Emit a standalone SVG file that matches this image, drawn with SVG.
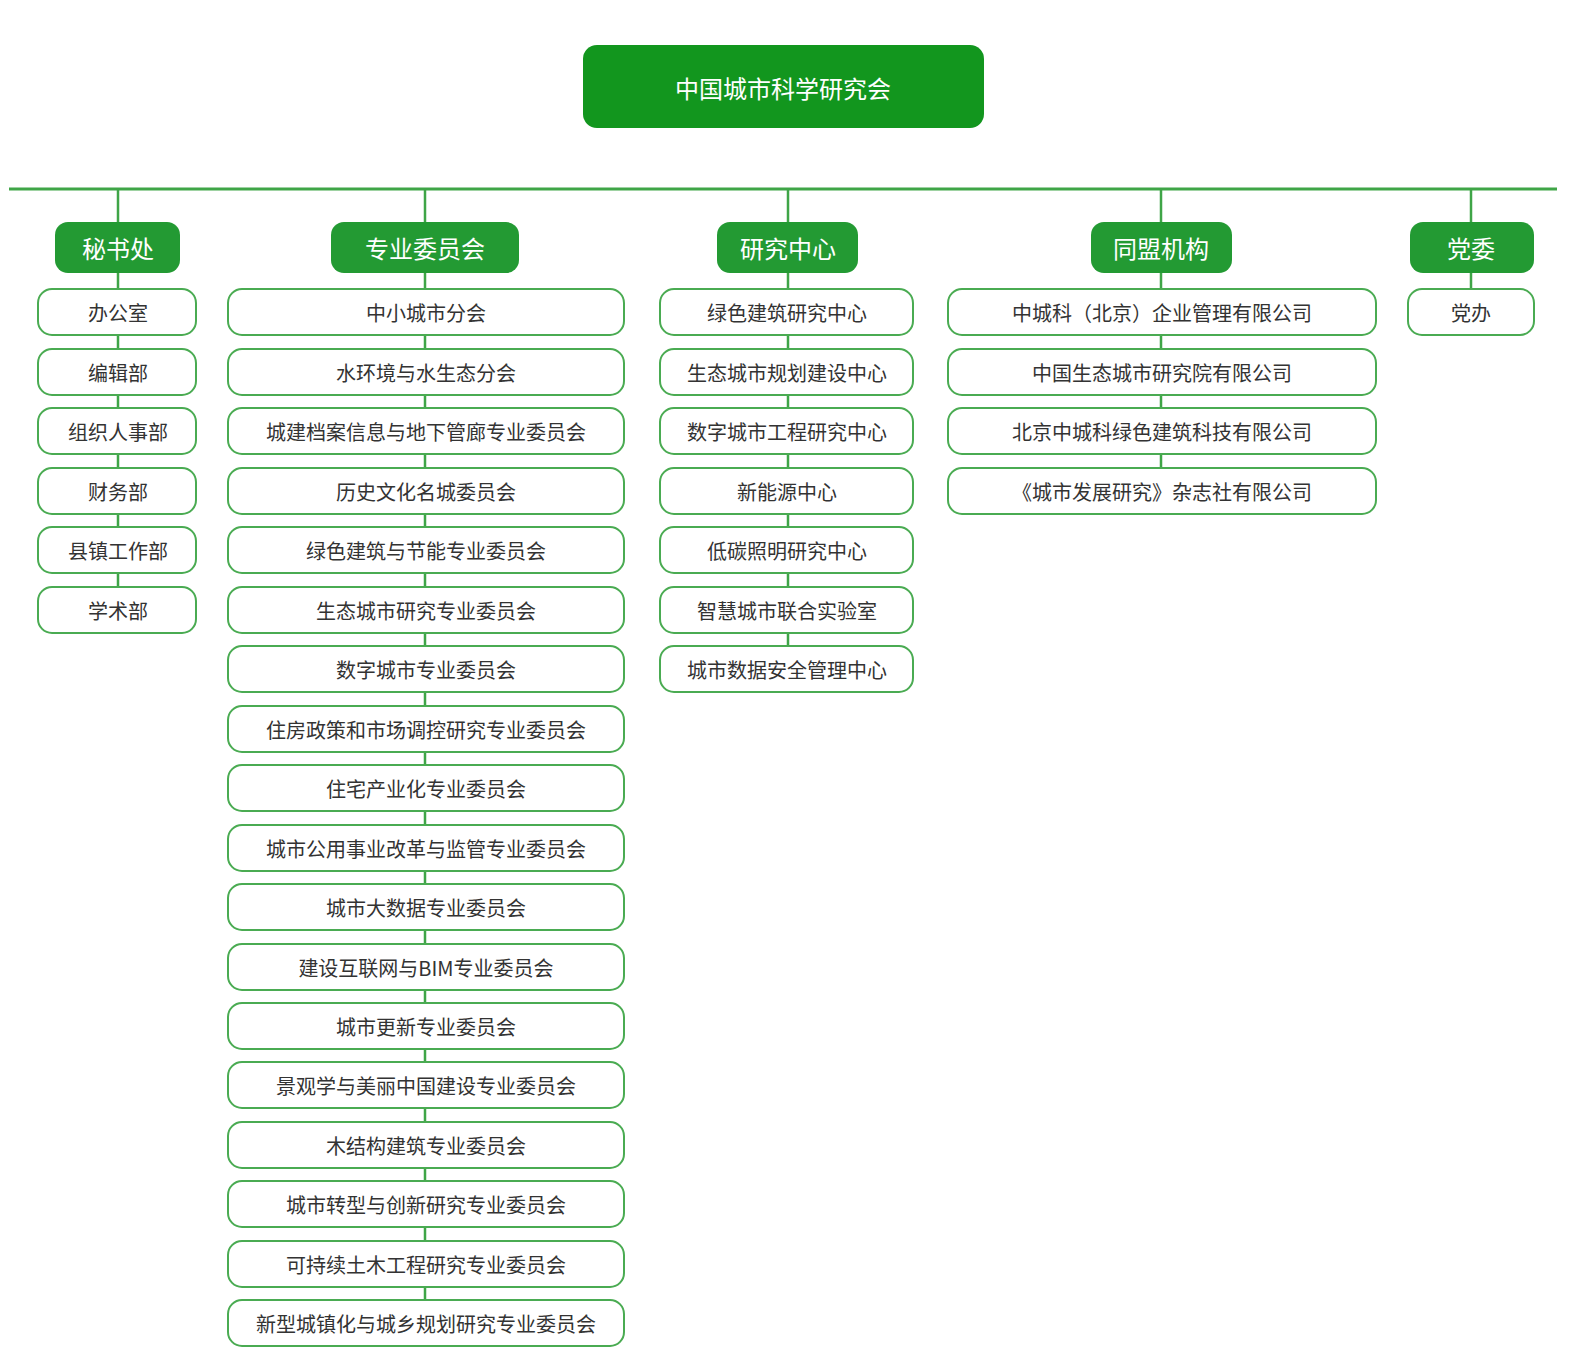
<svg xmlns="http://www.w3.org/2000/svg" width="1577" height="1366" viewBox="0 0 1577 1366">
<style>
.h{fill:#239a33}
.c{fill:#fff;stroke:#4aab52;stroke-width:2}
.ht{font-family:"Noto Sans CJK SC",sans-serif;font-size:24px;fill:#fff;text-anchor:middle;dominant-baseline:central}
.ct{font-family:"Noto Sans CJK SC",sans-serif;font-size:20px;fill:#333;text-anchor:middle;dominant-baseline:central}
.ln{stroke:#3fa547;stroke-width:2.5;fill:none}
</style>
<rect width="1577" height="1366" fill="#fff"/>
<g id="connectors" class="ln">
<line x1="9" y1="189" x2="1557" y2="189" stroke-width="3"/>
<line x1="118" y1="189" x2="118" y2="612"/>
<line x1="425" y1="189" x2="425" y2="1323"/>
<line x1="788" y1="189" x2="788" y2="670"/>
<line x1="1161" y1="189" x2="1161" y2="492"/>
<line x1="1471" y1="189" x2="1471" y2="312"/>
</g>
<g id="root"><rect x="583" y="45" width="401" height="83" rx="14" fill="#12961e"/><text x="783" y="87" class="ht" font-size="36">中国城市科学研究会</text></g>
<g id="h1"><rect class="h" x="55" y="222" width="125" height="51" rx="13"/><text class="ht" x="118" y="247">秘书处</text></g>
<g id="h2"><rect class="h" x="331" y="222" width="188" height="51" rx="13"/><text class="ht" x="425" y="247">专业委员会</text></g>
<g id="h3"><rect class="h" x="717" y="222" width="141" height="51" rx="13"/><text class="ht" x="788" y="247">研究中心</text></g>
<g id="h4"><rect class="h" x="1091" y="222" width="141" height="51" rx="13"/><text class="ht" x="1161" y="247">同盟机构</text></g>
<g id="h5"><rect class="h" x="1410" y="222" width="124" height="51" rx="13"/><text class="ht" x="1471" y="247">党委</text></g>
<g id="col1">
<g id="c1-1"><rect class="c" x="38" y="289" width="158" height="46" rx="14"/><text class="ct" x="118" y="312">办公室</text></g>
<g id="c1-2"><rect class="c" x="38" y="349" width="158" height="46" rx="14"/><text class="ct" x="118" y="372">编辑部</text></g>
<g id="c1-3"><rect class="c" x="38" y="408" width="158" height="46" rx="14"/><text class="ct" x="118" y="431">组织人事部</text></g>
<g id="c1-4"><rect class="c" x="38" y="468" width="158" height="46" rx="14"/><text class="ct" x="118" y="491">财务部</text></g>
<g id="c1-5"><rect class="c" x="38" y="527" width="158" height="46" rx="14"/><text class="ct" x="118" y="550">县镇工作部</text></g>
<g id="c1-6"><rect class="c" x="38" y="587" width="158" height="46" rx="14"/><text class="ct" x="118" y="610">学术部</text></g>
</g>
<g id="col2">
<g id="c2-1"><rect class="c" x="228" y="289" width="396" height="46" rx="14"/><text class="ct" x="426" y="312">中小城市分会</text></g>
<g id="c2-2"><rect class="c" x="228" y="349" width="396" height="46" rx="14"/><text class="ct" x="426" y="372">水环境与水生态分会</text></g>
<g id="c2-3"><rect class="c" x="228" y="408" width="396" height="46" rx="14"/><text class="ct" x="426" y="431">城建档案信息与地下管廊专业委员会</text></g>
<g id="c2-4"><rect class="c" x="228" y="468" width="396" height="46" rx="14"/><text class="ct" x="426" y="491">历史文化名城委员会</text></g>
<g id="c2-5"><rect class="c" x="228" y="527" width="396" height="46" rx="14"/><text class="ct" x="426" y="550">绿色建筑与节能专业委员会</text></g>
<g id="c2-6"><rect class="c" x="228" y="587" width="396" height="46" rx="14"/><text class="ct" x="426" y="610">生态城市研究专业委员会</text></g>
<g id="c2-7"><rect class="c" x="228" y="646" width="396" height="46" rx="14"/><text class="ct" x="426" y="669">数字城市专业委员会</text></g>
<g id="c2-8"><rect class="c" x="228" y="706" width="396" height="46" rx="14"/><text class="ct" x="426" y="729">住房政策和市场调控研究专业委员会</text></g>
<g id="c2-9"><rect class="c" x="228" y="765" width="396" height="46" rx="14"/><text class="ct" x="426" y="788">住宅产业化专业委员会</text></g>
<g id="c2-10"><rect class="c" x="228" y="825" width="396" height="46" rx="14"/><text class="ct" x="426" y="848">城市公用事业改革与监管专业委员会</text></g>
<g id="c2-11"><rect class="c" x="228" y="884" width="396" height="46" rx="14"/><text class="ct" x="426" y="907">城市大数据专业委员会</text></g>
<g id="c2-12"><rect class="c" x="228" y="944" width="396" height="46" rx="14"/><text class="ct" x="426" y="967">建设互联网与BIM专业委员会</text></g>
<g id="c2-13"><rect class="c" x="228" y="1003" width="396" height="46" rx="14"/><text class="ct" x="426" y="1026">城市更新专业委员会</text></g>
<g id="c2-14"><rect class="c" x="228" y="1062" width="396" height="46" rx="14"/><text class="ct" x="426" y="1085">景观学与美丽中国建设专业委员会</text></g>
<g id="c2-15"><rect class="c" x="228" y="1122" width="396" height="46" rx="14"/><text class="ct" x="426" y="1145">木结构建筑专业委员会</text></g>
<g id="c2-16"><rect class="c" x="228" y="1181" width="396" height="46" rx="14"/><text class="ct" x="426" y="1204">城市转型与创新研究专业委员会</text></g>
<g id="c2-17"><rect class="c" x="228" y="1241" width="396" height="46" rx="14"/><text class="ct" x="426" y="1264">可持续土木工程研究专业委员会</text></g>
<g id="c2-18"><rect class="c" x="228" y="1300" width="396" height="46" rx="14"/><text class="ct" x="426" y="1323">新型城镇化与城乡规划研究专业委员会</text></g>
</g>
<g id="col3">
<g id="c3-1"><rect class="c" x="660" y="289" width="253" height="46" rx="14"/><text class="ct" x="787" y="312">绿色建筑研究中心</text></g>
<g id="c3-2"><rect class="c" x="660" y="349" width="253" height="46" rx="14"/><text class="ct" x="787" y="372">生态城市规划建设中心</text></g>
<g id="c3-3"><rect class="c" x="660" y="408" width="253" height="46" rx="14"/><text class="ct" x="787" y="431">数字城市工程研究中心</text></g>
<g id="c3-4"><rect class="c" x="660" y="468" width="253" height="46" rx="14"/><text class="ct" x="787" y="491">新能源中心</text></g>
<g id="c3-5"><rect class="c" x="660" y="527" width="253" height="46" rx="14"/><text class="ct" x="787" y="550">低碳照明研究中心</text></g>
<g id="c3-6"><rect class="c" x="660" y="587" width="253" height="46" rx="14"/><text class="ct" x="787" y="610">智慧城市联合实验室</text></g>
<g id="c3-7"><rect class="c" x="660" y="646" width="253" height="46" rx="14"/><text class="ct" x="787" y="669">城市数据安全管理中心</text></g>
</g>
<g id="col4">
<g id="c4-1"><rect class="c" x="948" y="289" width="428" height="46" rx="14"/><text class="ct" x="1162" y="312">中城科（北京）企业管理有限公司</text></g>
<g id="c4-2"><rect class="c" x="948" y="349" width="428" height="46" rx="14"/><text class="ct" x="1162" y="372">中国生态城市研究院有限公司</text></g>
<g id="c4-3"><rect class="c" x="948" y="408" width="428" height="46" rx="14"/><text class="ct" x="1162" y="431">北京中城科绿色建筑科技有限公司</text></g>
<g id="c4-4"><rect class="c" x="948" y="468" width="428" height="46" rx="14"/><text class="ct" x="1162" y="491">《城市发展研究》杂志社有限公司</text></g>
</g>
<g id="col5">
<g id="c5-1"><rect class="c" x="1408" y="289" width="126" height="46" rx="14"/><text class="ct" x="1471" y="312">党办</text></g>
</g>
</svg>
